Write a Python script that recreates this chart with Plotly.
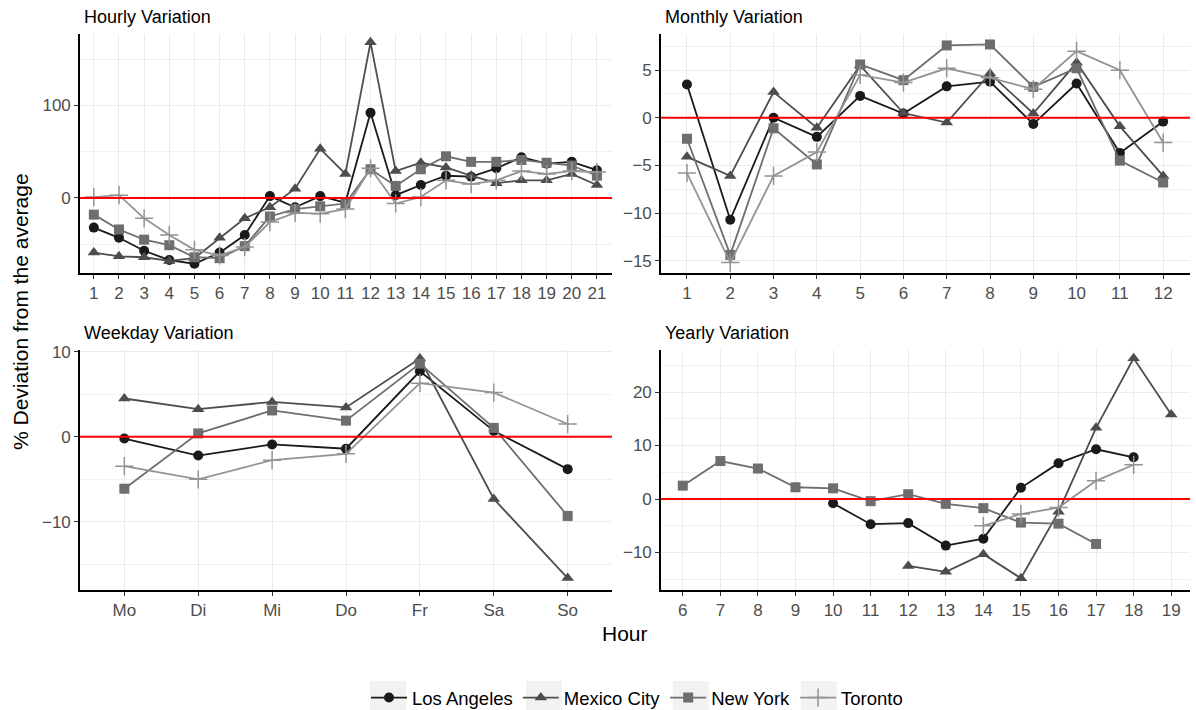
import plotly.graph_objects as go

cities = ["Los Angeles", "Mexico City", "New York", "Toronto"]
colors = {"Los Angeles": "#1a1a1a", "Mexico City": "#4d4d4d", "New York": "#6e6e6e", "Toronto": "#939393"}
symbols = {"Los Angeles": "circle", "Mexico City": "triangle-up", "New York": "square", "Toronto": "cross-thin"}
sizes = {"Los Angeles": 10, "Mexico City": 11, "New York": 10, "Toronto": 13}

# Hourly variation
hours = list(range(1, 22))
hourly = {
    "Los Angeles": [-32, -43, -57, -67, -71, -59, -40, 2, -10, 2, -5, 92, 3, 14, 24, 23, 32, 44, 37, 39, 30],
    "Mexico City": [-59, -63, -64, -68, -65, -43, -22, -10, 10, 53, 26, 168, 29, 38, 33, 24, 16, 19, 19, 26, 14],
    "New York": [-18, -34, -45, -51, -64, -65, -52, -20, -12, -9, -6, 31, 13, 31, 45, 39, 39, 41, 38, 35, 24],
    "Toronto": [1, 3, -22, -40, -56, -62, -53, -26, -16, -17, -12, 32, -6, 1, 19, 15, 19, 29, 26, 29, 28],
}

# Monthly variation
months = list(range(1, 13))
monthly = {
    "Los Angeles": [3.5, -10.7, 0.0, -2.0, 2.3, 0.45, 3.3, 3.8, -0.66, 3.6, -3.7, -0.4],
    "Mexico City": [-4.1, -6.1, 2.7, -1.05, 5.5, 0.5, -0.5, 4.65, 0.45, 5.8, -0.9, -6.1],
    "New York": [-2.2, -14.4, -1.1, -4.9, 5.6, 3.95, 7.6, 7.7, 3.25, 5.2, -4.5, -6.8],
    "Toronto": [-5.8, -15.2, -6.1, -3.6, 4.5, 3.7, 5.2, 4.2, 3.0, 7.0, 5.0, -2.6],
}

# Weekday variation
weekdays = ["Mo", "Di", "Mi", "Do", "Fr", "Sa", "So"]
weekday = {
    "Los Angeles": [-0.2, -2.2, -0.9, -1.4, 7.7, 0.7, -3.8],
    "Mexico City": [4.5, 3.25, 4.1, 3.45, 9.2, -7.3, -16.6],
    "New York": [-6.1, 0.4, 3.1, 1.9, 8.6, 1.05, -9.3],
    "Toronto": [-3.45, -5.0, -2.75, -2.0, 6.3, 5.2, 1.5],
}

# Yearly variation
years = {
    "Los Angeles": [10, 11, 12, 13, 14, 15, 16, 17, 18],
    "Mexico City": [12, 13, 14, 15, 16, 17, 18, 19],
    "New York": [6, 7, 8, 9, 10, 11, 12, 13, 14, 15, 16, 17],
    "Toronto": [14, 15, 16, 17, 18],
}
yearly = {
    "Los Angeles": [-0.8, -4.7, -4.5, -8.7, -7.4, 2.1, 6.7, 9.3, 7.8],
    "Mexico City": [-12.5, -13.6, -10.3, -14.8, -2.4, 13.3, 26.3, 15.8],
    "New York": [2.5, 7.1, 5.7, 2.2, 2.0, -0.4, 0.9, -0.9, -1.7, -4.4, -4.6, -8.4],
    "Toronto": [-5.0, -2.8, -1.6, 3.4, 6.4],
}

panel_titles = ["Hourly Variation", "Monthly Variation", "Weekday Variation", "Yearly Variation"]

fig = go.Figure()


def add_series(xs, ys, xa, ya, city, show):
    fig.add_trace(go.Scatter(
        x=xs, y=ys, xaxis=xa, yaxis=ya, mode="lines+markers", name=city,
        legendgroup=city, showlegend=show,
        line=dict(color=colors[city], width=1.8),
        marker=dict(symbol=symbols[city], size=sizes[city], color=colors[city],
                    line=dict(color=colors[city], width=1.5 if city == "Toronto" else 0)),
    ))


for c in cities:
    add_series(hours, hourly[c], "x", "y", c, True)
    add_series(months, monthly[c], "x2", "y2", c, False)
    add_series(weekdays, weekday[c], "x3", "y3", c, False)
    add_series(years[c], yearly[c], "x4", "y4", c, False)

W, H = 1196, 710
left_dom = [80 / W, 612 / W]
right_dom = [661 / W, 1190 / W]
top_dom = [1 - 273 / H, 1 - 34 / H]
bot_dom = [1 - 590 / H, 1 - 350 / H]

tickfont = dict(family="Liberation Sans, Arial, sans-serif", size=17, color="#4d4d4d")
grid = "#ebebeb"


def xax(dom, anchor, rng, **kw):
    d = dict(domain=dom, anchor=anchor, range=rng, showline=True, linecolor="black", linewidth=1.6,
             ticks="outside", ticklen=4, tickcolor="#333333", tickwidth=1, automargin=False,
             showgrid=True, gridcolor=grid, gridwidth=1.2, zeroline=False, tickfont=tickfont)
    d.update(kw)
    return d


def yax(dom, anchor, rng, dtick):
    return dict(domain=dom, anchor=anchor, range=rng, showline=True, linecolor="black", linewidth=1.6,
                ticks="outside", ticklen=4, tickcolor="#333333", tickwidth=1, automargin=False,
                showgrid=True, gridcolor=grid, gridwidth=1.2, zeroline=False, tickfont=tickfont,
                tick0=0, dtick=dtick,
                minor=dict(dtick=dtick / 2, tick0=0, showgrid=True, gridcolor="#f0f0f0", gridwidth=0.7, ticks=""))


legend_x = 366
fig.update_layout(
    width=W, height=H, autosize=False,
    paper_bgcolor="white", plot_bgcolor="white",
    margin=dict(l=0, r=0, t=0, b=0, pad=0, autoexpand=False),
    font=dict(family="Liberation Sans, Arial, sans-serif", color="black"),
    xaxis=xax(left_dom, "y", [0.45, 21.6], tick0=1, dtick=1),
    yaxis=yax(top_dom, "x", [-81, 177], 100),
    xaxis2=xax(right_dom, "y2", [0.4, 12.62], tick0=1, dtick=1),
    yaxis2=yax(top_dom, "x2", [-16.3, 8.8], 5),
    xaxis3=xax(left_dom, "y3", [-0.6, 6.6], type="category", categoryorder="array", categoryarray=weekdays),
    yaxis3=yax(bot_dom, "x3", [-18.0, 10.2], 10),
    xaxis4=xax(right_dom, "y4", [5.42, 19.5], tick0=6, dtick=1),
    yaxis4=yax(bot_dom, "x4", [-17.0, 27.85], 10),
    showlegend=True,
    legend=dict(orientation="h", x=legend_x / W, xanchor="left", y=1 - 698 / H, yanchor="middle",
                font=dict(size=18.5, color="black"), itemwidth=36, bgcolor="rgba(0,0,0,0)"),
)

# red zero reference lines
for xa, ya in [("x", "y"), ("x2", "y2"), ("x3", "y3"), ("x4", "y4")]:
    fig.add_shape(type="line", xref=f"{xa} domain", yref=ya, x0=0, x1=1, y0=0, y1=0,
                  line=dict(color="red", width=2), layer="above")

# light grey legend key backgrounds (centred on the legend symbols)
for off in [0, 156, 303, 431]:
    m = legend_x + 22 + off
    fig.add_shape(type="rect", xref="paper", yref="paper", x0=(m - 18) / W, x1=(m + 18) / W,
                  y0=1 - 712 / H, y1=1 - 681 / H, line=dict(width=0), fillcolor="#f2f2f2", layer="above")

# panel titles
title_pos = [(82, 17), (663, 17), (82, 333), (663, 333)]
for t, (px, py) in zip(panel_titles, title_pos):
    fig.add_annotation(text=t, xref="paper", yref="paper", x=px / W, y=1 - py / H,
                       xanchor="left", yanchor="middle", showarrow=False,
                       font=dict(size=18, color="black"))

fig.add_annotation(text="% Deviation from the average", xref="paper", yref="paper",
                   x=20 / W, y=1 - 312 / H, textangle=-90, showarrow=False,
                   xanchor="center", yanchor="middle", font=dict(size=21, color="black"))
fig.add_annotation(text="Hour", xref="paper", yref="paper", x=625 / W, y=1 - 633 / H,
                   showarrow=False, xanchor="center", yanchor="middle", font=dict(size=21, color="black"))

fig.write_html("out.html", config={"displayModeBar": False},
               post_script="document.body.style.margin='0';document.body.style.overflow='hidden';")
